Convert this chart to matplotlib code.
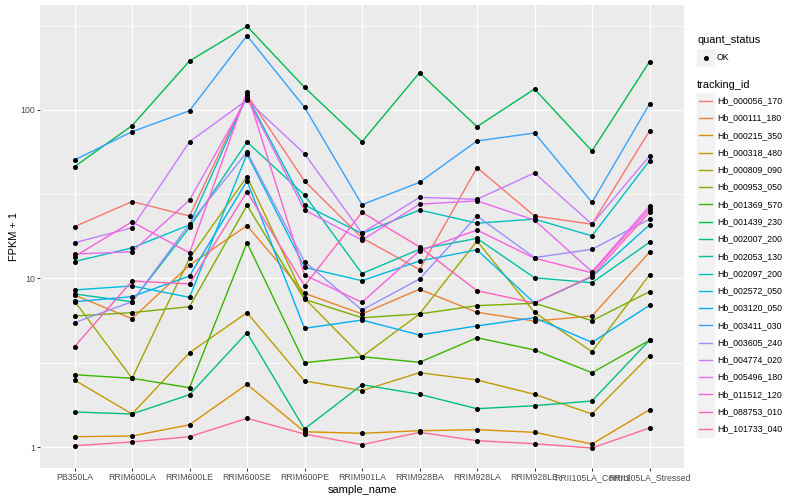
import matplotlib.pyplot as plt
from matplotlib.lines import Line2D
from matplotlib.patches import Rectangle

plt.rcParams['font.family'] = ['Liberation Sans', 'DejaVu Sans']

# samples on the x axis
samples = ['PB350LA', 'RRIM600LA', 'RRIM600LE', 'RRIM600SE', 'RRIM600PE',
           'RRIM901LA', 'RRIM928BA', 'RRIM928LA', 'RRIM928LE',
           'RRII105LA_Control', 'RRII105LA_Stressed']

# FPKM + 1 per gene
hb_000056_170 = [20.3, 28.6, 23.5, 122.8, 37.9, 17.4, 11.3, 45.5, 23.5, 21.0, 75.1]
hb_000111_180 = [7.98, 5.77, 12.0, 20.6, 8.17, 6.16, 8.63, 6.30, 5.59, 5.99, 14.3]
hb_000215_350 = [1.151, 1.162, 1.356, 2.356, 1.232, 1.206, 1.249, 1.267, 1.222, 1.042, 1.665]
hb_000318_480 = [2.498, 1.570, 3.627, 6.27, 2.464, 2.159, 2.760, 2.498, 2.055, 1.570, 3.483]
hb_000809_090 = [7.35, 2.557, 13.18, 40.2, 7.63, 3.435, 6.16, 16.7, 6.30, 3.678, 10.53]
hb_000953_050 = [5.99, 6.27, 6.80, 27.2, 7.52, 5.85, 6.16, 6.90, 7.13, 5.62, 8.35]
hb_001369_570 = [2.686, 2.557, 2.248, 16.3, 3.165, 3.435, 3.182, 4.453, 3.764, 2.760, 4.297]
hb_001439_230 = [46.1, 80.7, 195.3, 313.8, 136.3, 64.8, 166.4, 79.6, 133.2, 57.1, 193.4]
hb_002007_200 = [1.614, 1.570, 2.044, 4.768, 1.279, 2.343, 2.055, 1.688, 1.759, 1.875, 4.297]
hb_002053_130 = [8.09, 7.28, 20.1, 64.6, 31.3, 10.7, 14.9, 17.3, 10.1, 9.44, 16.4]
hb_002097_200 = [12.6, 15.2, 20.8, 121.1, 27.3, 18.5, 25.5, 21.3, 22.5, 17.9, 50.0]
hb_002572_050 = [8.55, 9.03, 7.73, 54.8, 11.65, 9.70, 12.7, 14.8, 7.15, 10.25, 20.8]
hb_003120_050 = [7.28, 7.80, 10.35, 37.9, 5.06, 5.67, 4.62, 5.23, 5.85, 4.18, 6.93]
hb_003411_030 = [50.5, 74.3, 99.0, 276.0, 103.8, 27.4, 37.2, 65.5, 73.0, 28.3, 108.5]
hb_003605_240 = [5.47, 7.28, 21.1, 56.3, 12.6, 6.50, 9.93, 23.5, 13.3, 14.9, 22.5]
hb_004774_020 = [16.3, 20.0, 64.8, 114.6, 55.0, 18.6, 30.3, 29.5, 42.3, 21.0, 53.3]
hb_005496_180 = [13.98, 14.4, 29.2, 117.8, 25.5, 16.9, 27.6, 28.9, 22.2, 10.97, 26.9]
hb_011512_120 = [13.5, 21.7, 14.2, 127.9, 10.5, 7.22, 14.6, 19.4, 13.2, 10.8, 25.9]
hb_088753_010 = [3.94, 9.66, 9.28, 32.7, 9.06, 24.7, 15.4, 8.47, 7.15, 10.35, 24.8]
hb_101733_040 = [1.018, 1.071, 1.151, 1.480, 1.194, 1.032, 1.222, 1.090, 1.046, 0.986, 1.297]

tracking_ids = ['Hb_000056_170', 'Hb_000111_180', 'Hb_000215_350', 'Hb_000318_480',
                'Hb_000809_090', 'Hb_000953_050', 'Hb_001369_570', 'Hb_001439_230',
                'Hb_002007_200', 'Hb_002053_130', 'Hb_002097_200', 'Hb_002572_050',
                'Hb_003120_050', 'Hb_003411_030', 'Hb_003605_240', 'Hb_004774_020',
                'Hb_005496_180', 'Hb_011512_120', 'Hb_088753_010', 'Hb_101733_040']
series = [hb_000056_170, hb_000111_180, hb_000215_350, hb_000318_480,
          hb_000809_090, hb_000953_050, hb_001369_570, hb_001439_230,
          hb_002007_200, hb_002053_130, hb_002097_200, hb_002572_050,
          hb_003120_050, hb_003411_030, hb_003605_240, hb_004774_020,
          hb_005496_180, hb_011512_120, hb_088753_010, hb_101733_040]

# ggplot default hue palette for 20 levels
colors = ['#F8766D', '#EA8331', '#D89000', '#C09B00', '#A3A500', '#7CAE00',
          '#39B600', '#00BB4E', '#00BF7D', '#00C1A3', '#00BFC4', '#00BAE0',
          '#00B0F6', '#35A2FF', '#9590FF', '#C77CFF', '#E76BF3', '#FA62DB',
          '#FF62BC', '#FF6C91']

W, H = 800, 500


def fx(px):
    return px / W


def fy(py):
    return 1 - py / H


fig = plt.figure(figsize=(8, 5), dpi=100)
ax = fig.add_axes([fx(40), fy(468), (684 - 40) / W, (468 - 5) / H])
ax.set_facecolor('#EBEBEB')
for s in ax.spines.values():
    s.set_visible(False)

x = list(range(len(samples)))
for vals, c in zip(series, colors):
    ax.plot(x, vals, color=c, lw=1.0, zorder=2)
for vals in series:
    ax.plot(x, vals, ls='none', marker='o', ms=2.6, color='black', zorder=3)

ax.set_yscale('log')
ax.set_ylim(10 ** -0.1246, 10 ** 2.623)
ax.set_xlim(-0.6, len(samples) - 0.4)
ax.set_yticks([1, 10, 100])
ax.set_yticklabels(['1', '10', '100'])
ax.set_yticks([10 ** 0.5, 10 ** 1.5, 10 ** 2.5], minor=True)
ax.set_yticklabels([], minor=True)
ax.set_xticks(x)
ax.set_xticklabels(samples)
ax.grid(which='major', color='white', lw=1.0)
ax.grid(which='minor', axis='y', color='white', lw=0.5)
ax.set_axisbelow(True)
ax.tick_params(which='major', length=2.0, width=0.7, color='#333333',
               labelsize=6.3, labelcolor='#4D4D4D', pad=1.6)
ax.tick_params(which='minor', length=0)
ax.set_xlabel('sample_name', fontsize=7.9, labelpad=2)
ax.set_ylabel('FPKM + 1', fontsize=7.9, labelpad=1)

# legends, drawn ggplot-style
fig.text(fx(697), fy(40), 'quant_status', fontsize=7.9, va='center', ha='left')
fig.add_artist(Rectangle((fx(697), fy(66)), 17 / W, 17 / H, color='#F2F2F2',
                         transform=fig.transFigure))
fig.add_artist(Line2D([fx(705.5)], [fy(57.5)], marker='o', ms=2.6, color='black',
                      transform=fig.transFigure))
fig.text(fx(717), fy(57.5), 'OK', fontsize=6.3, va='center', ha='left')

fig.text(fx(697), fy(85), 'tracking_id', fontsize=7.9, va='center', ha='left')
step = 17.28
for i, (name, c) in enumerate(zip(tracking_ids, colors)):
    yc = 100.7 + i * step
    fig.add_artist(Rectangle((fx(697), fy(yc + 8.2)), 16.5 / W, 16.4 / H,
                             color='#F2F2F2', transform=fig.transFigure))
    fig.add_artist(Line2D([fx(699), fx(712)], [fy(yc), fy(yc)], color=c, lw=1.0,
                          transform=fig.transFigure))
    fig.text(fx(717), fy(yc), name, fontsize=6.3, va='center', ha='left')

fig.savefig('out.png', dpi=100)
